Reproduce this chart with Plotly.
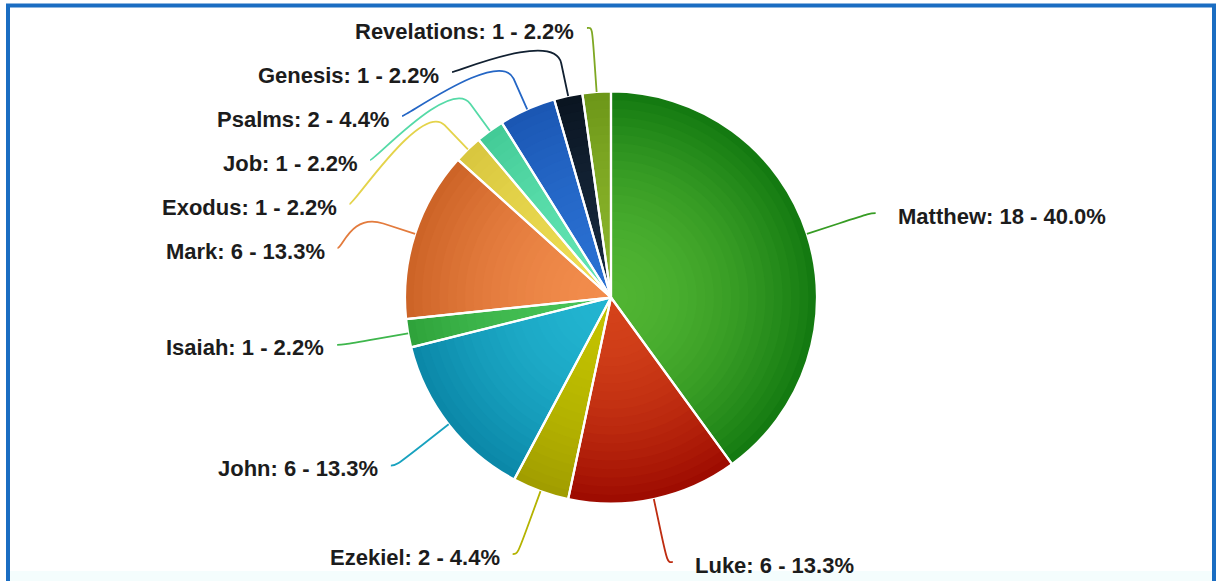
import math
import plotly.graph_objects as go

# Books of the Bible referenced, with counts
books = ["Matthew", "Luke", "Ezekiel", "John", "Isaiah", "Mark",
         "Exodus", "Job", "Psalms", "Genesis", "Revelations"]
counts = [18, 6, 2, 6, 1, 6, 1, 1, 2, 1, 1]

# Slice colours: inner (light) and outer (dark) ends of the radial shading
light_colors = ["#50b432", "#d4421a", "#c2c200", "#22b4d0", "#48c458", "#f28c4c",
                "#ecdc52", "#62e4b2", "#2a70d2", "#16283c", "#8ab42a"]
dark_colors = ["#127810", "#9c0a00", "#a09c00", "#0a86a6", "#2ea23a", "#cc6226",
               "#d8c63e", "#42ca96", "#1a56b2", "#0a1420", "#6c9618"]

# Canvas and pie geometry (pixels)
W, H = 1222, 581
CX, CY, RADIUS = 611, 297.5, 206
LABEL_R = 273          # radius of the circle carrying the label anchors
LABEL_GAP = 44         # minimum vertical spacing between labels on one side
Y_MIN, Y_MAX = 28, 562
N_LAYERS = 24
SHADE_POWER = 1.8

FONT = "Liberation Sans, Arial, Helvetica, sans-serif"


def hex_rgb(c):
    c = c.lstrip("#")
    return tuple(int(c[i:i + 2], 16) for i in (0, 2, 4))


def mix(c1, c2, t):
    a, b = hex_rgb(c1), hex_rgb(c2)
    return "rgb({},{},{})".format(*[round(a[i] + (b[i] - a[i]) * t) for i in range(3)])


fig = go.Figure()

# empty cartesian trace so the overlay axes (pixel units) exist
fig.add_trace(go.Scatter(x=[None], y=[None], mode="markers",
                         showlegend=False, hoverinfo="skip"))

# stacked pies of shrinking radius give a radial light-to-dark shading
for k in range(N_LAYERS):
    f = 1 - k / N_LAYERS
    rr = RADIUS * f
    t = max(f - 0.5 / N_LAYERS, 0) ** SHADE_POWER
    fig.add_trace(go.Pie(
        values=counts, labels=books, sort=False, direction="clockwise", rotation=0,
        domain=dict(x=[(CX - rr) / W, (CX + rr) / W],
                    y=[1 - (CY + rr) / H, 1 - (CY - rr) / H]),
        marker=dict(colors=[mix(l, d, t) for l, d in zip(light_colors, dark_colors)],
                    line=dict(width=0)),
        textinfo="none", hoverinfo="skip", showlegend=False,
    ))

# white slice borders on top
fig.add_trace(go.Pie(
    values=counts, labels=books, sort=False, direction="clockwise", rotation=0,
    domain=dict(x=[(CX - RADIUS) / W, (CX + RADIUS) / W],
                y=[1 - (CY + RADIUS) / H, 1 - (CY - RADIUS) / H]),
    marker=dict(colors=["rgba(0,0,0,0)"] * len(counts), line=dict(color="white", width=2.2)),
    textinfo="none", hovertemplate="%{label}: %{value}<extra></extra>", showlegend=False,
))

# ---- outside data labels with soft connectors ----
total = sum(counts)
cum = 0
items = []
for name, c, lc, dc in zip(books, counts, light_colors, dark_colors):
    a = (cum + c / 2) / total * 2 * math.pi
    cum += c
    items.append(dict(name=name, count=c, a=a, color=mix(lc, dc, 0.4),
                      left=math.sin(a) < 0,
                      ny=CY - LABEL_R * math.cos(a)))


def get_x(y, left):
    dy = max(-LABEL_R, min(LABEL_R, y - CY))
    return CX + (-1 if left else 1) * math.sqrt(LABEL_R ** 2 - dy ** 2)


shapes = []
annotations = []
for side in (True, False):
    group = sorted([it for it in items if it["left"] == side], key=lambda it: it["ny"])
    prev = -1e9
    for it in group:
        y_spread = max(it["ny"], prev + LABEL_GAP)
        y = min(max(y_spread, Y_MIN), Y_MAX)
        x = get_x(y_spread if y_spread <= Y_MAX else it["ny"], side)
        prev = y
        a = it["a"]
        ex, ey = CX + RADIUS * math.sin(a), CY - RADIUS * math.cos(a)
        mid_r = RADIUS + (LABEL_R - RADIUS) / 2
        bx, by = CX + mid_r * math.sin(a), CY - mid_r * math.cos(a)
        sx = x - 5 if side else x + 5
        path = (f"M {sx:.2f},{y:.2f} C {x:.2f},{y:.2f} {2 * bx - ex:.2f},{2 * by - ey:.2f} "
                f"{bx:.2f},{by:.2f} L {ex:.2f},{ey:.2f}")
        shapes.append(dict(type="path", path=path, xref="x", yref="y",
                           line=dict(color=it["color"], width=1.8), layer="above"))
        pct = it["count"] / total * 100
        annotations.append(dict(
            x=sx - 11 if side else sx + 20, y=y + 3, xref="x", yref="y",
            xanchor="right" if side else "left", yanchor="middle", showarrow=False,
            text=f"<b>{it['name']}: {it['count']} - {pct:.1f}%</b>",
            font=dict(family=FONT, size=22, color="#1c1c1c"),
        ))

# faint strip along the bottom and the blue frame
shapes.insert(0, dict(type="rect", xref="x", yref="y", x0=10, x1=1212, y0=571, y1=600,
                      fillcolor="#f4fdfd", line=dict(width=0), layer="below"))
shapes.append(dict(type="rect", xref="x", yref="y", x0=8, x1=1214, y0=5.5, y1=640,
                   fillcolor="rgba(0,0,0,0)", line=dict(color="#1a6dc2", width=4),
                   layer="above"))

fig.update_layout(
    width=W, height=H,
    margin=dict(l=0, r=0, t=0, b=0),
    paper_bgcolor="white", plot_bgcolor="white",
    xaxis=dict(range=[0, W], visible=False, fixedrange=True),
    yaxis=dict(range=[H, 0], visible=False, fixedrange=True),
    shapes=shapes, annotations=annotations,
    showlegend=False,
)

fig.write_html("out.html")
